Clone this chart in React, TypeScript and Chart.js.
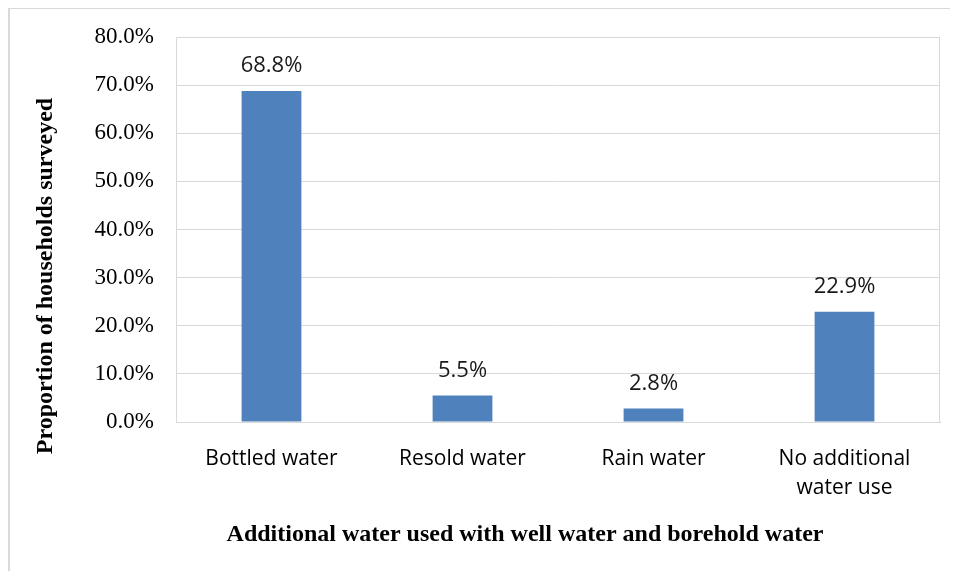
import React, { useEffect, useRef } from "react";
import { Chart, registerables } from "chart.js";

Chart.register(...registerables);

const categories: (string | string[])[] = [
  "Bottled water",
  "Resold water",
  "Rain water",
  ["No additional", "water use"],
];
const proportions: number[] = [68.8, 5.5, 2.8, 22.9];
const yTitle = "Proportion of households surveyed";
const xTitle = "Additional water used with well water and borehold water";

const BAR = "#4F81BD";
const GRID = "#d9d9d9";

const framePlugin = {
  id: "frameAndLabels",
  afterDatasetsDraw(chart: any) {
    const ctx = chart.ctx as CanvasRenderingContext2D;
    const a = chart.chartArea;
    ctx.save();
    ctx.strokeStyle = GRID;
    ctx.lineWidth = 1;
    ctx.strokeRect(a.left + 0.5, a.top + 0.5, a.right - a.left - 1, a.bottom - a.top);
    // value labels
    const meta = chart.getDatasetMeta(0);
    ctx.fillStyle = "#1a1a1a";
    ctx.font = "22px 'Open Sans'";
    ctx.textAlign = "center";
    ctx.textBaseline = "middle";
    meta.data.forEach((el: any, i: number) => {
      ctx.fillText(proportions[i].toFixed(1) + "%", el.x, el.y - 25);
    });
    // axis titles
    ctx.fillStyle = "#000";
    ctx.font = "bold 24px 'Liberation Serif'";
    ctx.fillText(xTitle, 517, 527);
    ctx.translate(38, 268);
    ctx.rotate(-Math.PI / 2);
    ctx.fillText(yTitle, 0, 0);
    ctx.restore();
  },
};

export default function App() {
  const ref = useRef<HTMLCanvasElement | null>(null);
  useEffect(() => {
    if (!ref.current) return;
    const chart = new Chart(ref.current, {
      type: "bar",
      data: {
        labels: categories,
        datasets: [
          {
            data: proportions,
            backgroundColor: BAR,
            borderWidth: 0,
            barPercentage: 0.313,
            categoryPercentage: 1,
          },
        ],
      },
      options: {
        animation: false,
        responsive: false,
        maintainAspectRatio: false,
        layout: { padding: { top: 29, right: 18, left: 0, bottom: 0 } },
        plugins: {
          legend: { display: false },
          tooltip: { enabled: false },
        },
        scales: {
          x: {
            grid: { display: false, drawTicks: false },
            border: { display: true, color: GRID, width: 1 },
            ticks: {
              color: "#000",
              padding: 23,
              maxRotation: 0,
              autoSkip: false,
              font: { family: "'Open Sans'", size: 21, lineHeight: 1.35 },
            },
            afterFit(scale: any) {
              scale.height = 157;
            },
          },
          y: {
            min: 0,
            max: 80,
            grid: { color: GRID, drawTicks: false },
            border: { display: true, color: GRID, width: 1 },
            ticks: {
              stepSize: 10,
              color: "#000",
              padding: 22,
              font: { family: "'Liberation Serif'", size: 23, lineHeight: 0.5 },
              callback: (v: any) => Number(v).toFixed(1) + "%",
            },
            afterFit(scale: any) {
              scale.width = 168;
            },
          },
        },
      },
      plugins: [framePlugin],
    });
    return () => chart.destroy();
  }, []);
  return (
    <div
      style={{
        position: "relative",
        zIndex: 10,
        width: 950,
        height: 571,
        marginRight: -8,
        marginBottom: -8,
        background: "#fff",
      }}
    >
      <canvas
        ref={ref}
        width={950}
        height={571}
        style={{ position: "absolute", left: 0, top: 0, background: "#fff" }}
      />
      <div
        style={{
          position: "absolute",
          left: 0,
          top: -1,
          width: 950,
          height: 572,
          borderTop: "2px solid #d9d9d9",
          borderLeft: "2px solid #d9d9d9",
          boxSizing: "border-box",
          pointerEvents: "none",
        }}
      />
    </div>
  );
}
